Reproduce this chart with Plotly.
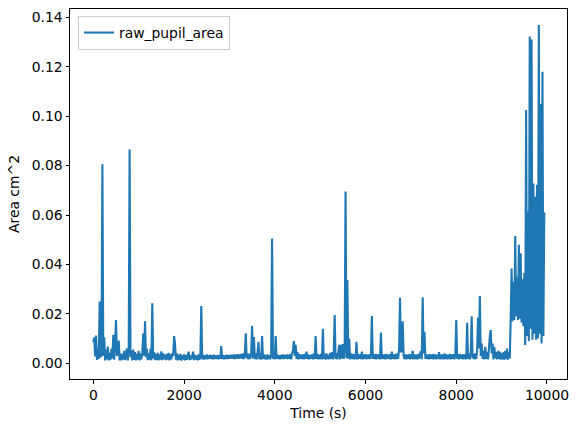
import numpy as np
import plotly.graph_objects as go

# Sampling: one value every 20 s starting at t = 0
sample_step_s = 20

# raw pupil area (cm^2), 10 samples (200 s) per row
raw_pupil_area = [
    0.0085, 0.0105, 0.0028, 0.0112, 0.0014, 0.0062, 0.0018, 0.0250, 0.0024, 0.0045,
    0.0805, 0.0030, 0.0105, 0.0012, 0.0055, 0.0016, 0.0068, 0.0012, 0.0042, 0.0015,
    0.0060, 0.0020, 0.0115, 0.0015, 0.0085, 0.0175, 0.0030, 0.0045, 0.0092, 0.0012,
    0.0040, 0.0012, 0.0038, 0.0015, 0.0050, 0.0013, 0.0035, 0.0060, 0.0012, 0.0055,
    0.0865, 0.0025, 0.0050, 0.0012, 0.0055, 0.0014, 0.0045, 0.0012, 0.0038, 0.0015,
    0.0050, 0.0012, 0.0040, 0.0016, 0.0045, 0.0120, 0.0030, 0.0170, 0.0025, 0.0060,
    0.0013, 0.0040, 0.0015, 0.0060, 0.0012, 0.0243, 0.0020, 0.0045, 0.0013, 0.0038,
    0.0014, 0.0042, 0.0012, 0.0036, 0.0015, 0.0048, 0.0013, 0.0040, 0.0016, 0.0035,
    0.0013, 0.0038, 0.0015, 0.0042, 0.0012, 0.0036, 0.0016, 0.0040, 0.0030, 0.0110,
    0.0083, 0.0015, 0.0040, 0.0012, 0.0034, 0.0014, 0.0038, 0.0011, 0.0032, 0.0015,
    0.0036, 0.0012, 0.0034, 0.0014, 0.0030, 0.0047, 0.0013, 0.0032, 0.0015, 0.0030,
    0.0047, 0.0013, 0.0034, 0.0015, 0.0032, 0.0012, 0.0036, 0.0014, 0.0030, 0.0232,
    0.0016, 0.0034, 0.0015, 0.0032, 0.0017, 0.0036, 0.0016, 0.0033, 0.0018, 0.0035,
    0.0017, 0.0033, 0.0016, 0.0035, 0.0018, 0.0032, 0.0017, 0.0034, 0.0016, 0.0033,
    0.0018, 0.0070, 0.0017, 0.0034, 0.0016, 0.0032, 0.0018, 0.0035, 0.0017, 0.0033,
    0.0018, 0.0035, 0.0019, 0.0034, 0.0018, 0.0036, 0.0017, 0.0035, 0.0019, 0.0037,
    0.0018, 0.0036, 0.0020, 0.0038, 0.0018, 0.0040, 0.0017, 0.0035, 0.0121, 0.0020,
    0.0040, 0.0016, 0.0038, 0.0018, 0.0042, 0.0151, 0.0020, 0.0106, 0.0017, 0.0040,
    0.0016, 0.0045, 0.0087, 0.0017, 0.0038, 0.0015, 0.0110, 0.0018, 0.0036, 0.0016,
    0.0034, 0.0015, 0.0036, 0.0017, 0.0033, 0.0016, 0.0035, 0.0505, 0.0018, 0.0034,
    0.0016, 0.0110, 0.0018, 0.0035, 0.0017, 0.0033, 0.0016, 0.0034, 0.0018, 0.0036,
    0.0017, 0.0034, 0.0019, 0.0036, 0.0017, 0.0035, 0.0018, 0.0037, 0.0016, 0.0040,
    0.0050, 0.0090, 0.0030, 0.0075, 0.0018, 0.0045, 0.0016, 0.0038, 0.0018, 0.0035,
    0.0017, 0.0036, 0.0016, 0.0038, 0.0018, 0.0047, 0.0017, 0.0035, 0.0016, 0.0034,
    0.0018, 0.0036, 0.0016, 0.0040, 0.0017, 0.0110, 0.0018, 0.0038, 0.0016, 0.0035,
    0.0017, 0.0038, 0.0016, 0.0140, 0.0018, 0.0036, 0.0015, 0.0040, 0.0017, 0.0034,
    0.0016, 0.0042, 0.0018, 0.0045, 0.0016, 0.0038, 0.0195, 0.0017, 0.0040, 0.0016,
    0.0045, 0.0075, 0.0016, 0.0075, 0.0020, 0.0078, 0.0018, 0.0060, 0.0695, 0.0020,
    0.0337, 0.0018, 0.0100, 0.0016, 0.0040, 0.0018, 0.0038, 0.0016, 0.0036, 0.0017,
    0.0087, 0.0016, 0.0038, 0.0018, 0.0036, 0.0017, 0.0047, 0.0016, 0.0035, 0.0018,
    0.0037, 0.0016, 0.0035, 0.0018, 0.0036, 0.0017, 0.0038, 0.0191, 0.0018, 0.0036,
    0.0017, 0.0038, 0.0016, 0.0036, 0.0018, 0.0037, 0.0016, 0.0124, 0.0018, 0.0035,
    0.0017, 0.0036, 0.0016, 0.0038, 0.0018, 0.0035, 0.0017, 0.0037, 0.0016, 0.0047,
    0.0018, 0.0036, 0.0016, 0.0038, 0.0017, 0.0040, 0.0018, 0.0060, 0.0265, 0.0045,
    0.0050, 0.0170, 0.0030, 0.0018, 0.0036, 0.0016, 0.0035, 0.0018, 0.0037, 0.0016,
    0.0036, 0.0018, 0.0050, 0.0016, 0.0036, 0.0017, 0.0035, 0.0016, 0.0038, 0.0018,
    0.0036, 0.0050, 0.0016, 0.0267, 0.0040, 0.0128, 0.0018, 0.0036, 0.0017, 0.0035,
    0.0016, 0.0037, 0.0018, 0.0035, 0.0016, 0.0038, 0.0017, 0.0036, 0.0016, 0.0034,
    0.0018, 0.0045, 0.0016, 0.0036, 0.0017, 0.0035, 0.0016, 0.0040, 0.0018, 0.0036,
    0.0016, 0.0035, 0.0017, 0.0038, 0.0016, 0.0036, 0.0018, 0.0037, 0.0016, 0.0035,
    0.0175, 0.0017, 0.0036, 0.0016, 0.0038, 0.0018, 0.0035, 0.0016, 0.0037, 0.0017,
    0.0036, 0.0016, 0.0164, 0.0018, 0.0040, 0.0016, 0.0045, 0.0190, 0.0020, 0.0038,
    0.0016, 0.0040, 0.0018, 0.0050, 0.0185, 0.0060, 0.0272, 0.0030, 0.0080, 0.0018,
    0.0050, 0.0016, 0.0067, 0.0018, 0.0045, 0.0016, 0.0060, 0.0110, 0.0135, 0.0040,
    0.0080, 0.0016, 0.0067, 0.0020, 0.0045, 0.0016, 0.0050, 0.0018, 0.0047, 0.0015,
    0.0040, 0.0016, 0.0045, 0.0015, 0.0050, 0.0017, 0.0060, 0.0015, 0.0045, 0.0020,
    0.0180, 0.0384, 0.0170, 0.0330, 0.0175, 0.0515, 0.0190, 0.0350, 0.0175, 0.0480,
    0.0180, 0.0445, 0.0165, 0.0340, 0.0150, 0.0365, 0.0074, 0.1025, 0.0110, 0.0614,
    0.0090, 0.1322, 0.0140, 0.1310, 0.0095, 0.0728, 0.0120, 0.0674, 0.0095, 0.0722,
    0.0100, 0.1369, 0.0120, 0.1050, 0.0080, 0.1180, 0.0110, 0.0610,
]

time_s = np.arange(len(raw_pupil_area)) * sample_step_s

x_ticks = [0, 2000, 4000, 6000, 8000, 10000]
x_tick_labels = ["0", "2000", "4000", "6000", "8000", "10000"]
y_ticks = [0.00, 0.02, 0.04, 0.06, 0.08, 0.10, 0.12, 0.14]
y_tick_labels = ["0.00", "0.02", "0.04", "0.06", "0.08", "0.10", "0.12", "0.14"]

font_family = "DejaVu Sans"
fs = 13.9

fig = go.Figure()
fig.add_trace(go.Scatter(
    x=time_s, y=raw_pupil_area, mode="lines", name="raw_pupil_area",
    line=dict(color="#1f77b4", width=2.1, simplify=False),
))

axis_common = dict(
    showgrid=False, zeroline=False, showline=True, linecolor="black",
    linewidth=1, mirror=True, ticks="outside", ticklen=3.5, tickwidth=1,
    tickcolor="black", automargin=False,
    tickfont=dict(family=font_family, size=fs, color="black"),
)

fig.update_layout(
    width=578, height=432,
    margin=dict(l=70, r=11, t=9, b=53, autoexpand=False),
    paper_bgcolor="white", plot_bgcolor="white",
    font=dict(family=font_family, size=fs, color="black"),
    showlegend=True,
    legend=dict(
        x=0.016, y=0.981, xanchor="left", yanchor="top",
        bgcolor="rgba(255,255,255,0.8)", bordercolor="#cccccc", borderwidth=1,
        font=dict(family=font_family, size=fs, color="black"),
    ),
    xaxis=dict(
        **axis_common, range=[-514, 10441], tickvals=x_ticks, ticktext=x_tick_labels,
        title=dict(text="Time (s)", standoff=6,
                   font=dict(family=font_family, size=fs, color="black")),
    ),
    yaxis=dict(
        **axis_common, range=[-0.00635, 0.14336], tickvals=y_ticks, ticktext=y_tick_labels,
        title=dict(text="Area cm^2", standoff=8,
                   font=dict(family=font_family, size=fs, color="black")),
    ),
)

fig.write_html("out.html", config={"displayModeBar": False},
               post_script="document.body.style.margin='0';")
